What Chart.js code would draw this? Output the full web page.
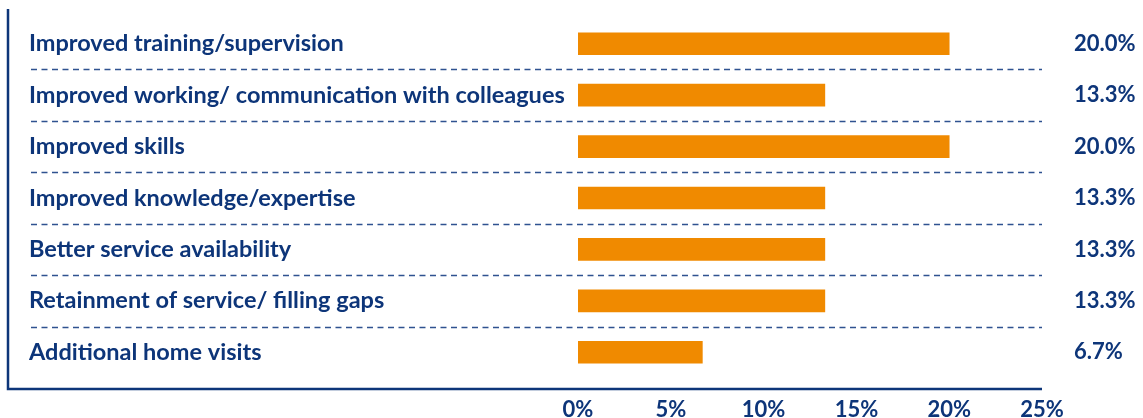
<!DOCTYPE html>
<html>
<head>
<meta charset="utf-8">
<script src="https://cdn.jsdelivr.net/npm/chart.js@4.4.1/dist/chart.umd.min.js"></script>
<style>
  html, body { margin: 0; padding: 0; background: #ffffff; }
  #wrap { width: 1143px; height: 418px; }
</style>
</head>
<body>
<div id="wrap"><canvas id="impactChart" width="1143" height="418"></canvas></div>
<script>
// Reported benefits, share of respondents (%)
const categories = [
    'Improved training/supervision',
    'Improved working/ communication with colleagues',
    'Improved skills',
    'Improved knowledge/expertise',
    'Better service availability',
    'Retainment of service/ filling gaps',
    'Additional home visits'
];
const shares = [20.0, 13.3, 20.0, 13.3, 13.3, 13.3, 6.7];
const xTicks = [0, 5, 10, 15, 20, 25];

const NAVY = '#0d3579';
const ORANGE = '#f08a00';
const CATEGORY_FONT = { family: 'Lato', size: 23.5, weight: 'bold' };
const TICK_FONT = { family: 'Lato', size: 22, weight: 'bold' };

// Frame lines, dashed row separators and the value column on the right
const framePlugin = {
    id: 'frame',
    afterDatasetsDraw(chart) {
        const { ctx, chartArea, scales: { y } } = chart;
        ctx.save();

        // 1. dashed separators between rows
        ctx.strokeStyle = '#2f5290';
        ctx.lineWidth = 1.5;
        ctx.setLineDash([6, 4.5]);
        for (let i = 0; i < categories.length - 1; i++) {
            const yy = Math.round((y.getPixelForValue(i) + y.getPixelForValue(i + 1)) / 2) + 0.5;
            ctx.beginPath();
            ctx.moveTo(31, yy);
            ctx.lineTo(chartArea.right, yy);
            ctx.stroke();
        }

        // 2. left and bottom axis lines
        const base = chartArea.bottom + 11;
        ctx.setLineDash([]);
        ctx.strokeStyle = NAVY;
        ctx.lineWidth = 2.5;
        ctx.beginPath();
        ctx.moveTo(8, 9);
        ctx.lineTo(8, base);
        ctx.lineTo(chartArea.right, base);
        ctx.stroke();

        // 3. value labels
        ctx.fillStyle = NAVY;
        ctx.font = 'bold 22px Lato';
        ctx.textAlign = 'left';
        ctx.textBaseline = 'middle';
        shares.forEach((v, i) => {
            ctx.fillText(v.toFixed(1) + '%', chartArea.right + 32, y.getPixelForValue(i));
        });

        ctx.restore();
    }
};

const ctx = document.getElementById('impactChart').getContext('2d');
new Chart(ctx, {
    type: 'bar',
    data: {
        labels: categories,
        datasets: [{
            data: shares,
            backgroundColor: ORANGE,
            borderWidth: 0,
            barThickness: 22
        }]
    },
    options: {
        indexAxis: 'y',
        responsive: false,
        animation: false,
        layout: { padding: { left: 29, right: 101, top: 18, bottom: 0 } },
        plugins: {
            legend: { display: false },
            tooltip: { enabled: false }
        },
        scales: {
            y: {
                grid: { display: false, drawTicks: false },
                border: { display: false },
                ticks: {
                    color: NAVY,
                    font: CATEGORY_FONT,
                    crossAlign: 'far',
                    padding: 0,
                    autoSkip: false
                },
                afterFit: (scale) => { scale.width = 549; }
            },
            x: {
                min: 0,
                max: 25,
                grid: { display: false, drawTicks: false },
                border: { display: false },
                ticks: {
                    color: NAVY,
                    font: TICK_FONT,
                    padding: 19,
                    maxRotation: 0,
                    callback: (v) => v + '%'
                },
                afterBuildTicks: (scale) => {
                    scale.ticks = xTicks.map(v => ({ value: v }));
                },
                afterFit: (scale) => { scale.height = 40; }
            }
        }
    },
    plugins: [framePlugin]
});
</script>
</body>
</html>
